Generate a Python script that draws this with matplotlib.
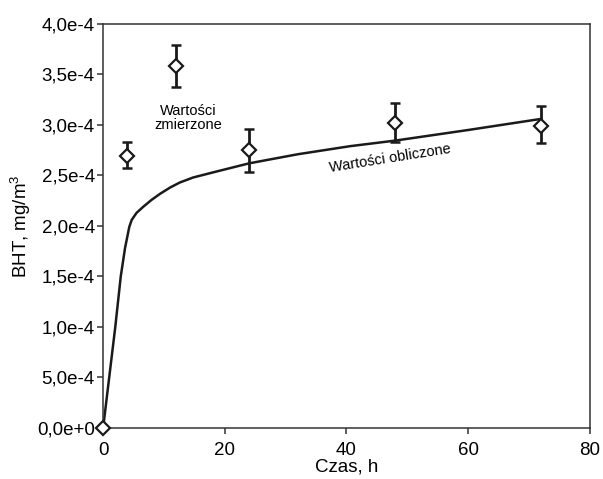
import numpy as np
import matplotlib
matplotlib.use("Agg")
import matplotlib.pyplot as plt
from matplotlib.ticker import FixedLocator, FixedFormatter

plt.rcParams["font.family"] = ["Liberation Sans", "DejaVu Sans"]
plt.rcParams["mathtext.default"] = "regular"

# measured values (time in h, BHT in mg/m3)
meas_t = [0, 4, 12, 24, 48, 72]
meas_y = [0.0, 2.69e-4, 3.58e-4, 2.75e-4, 3.02e-4, 2.99e-4]
meas_lo = [0.0, 2.57e-4, 3.38e-4, 2.53e-4, 2.83e-4, 2.82e-4]
meas_hi = [0.0, 2.83e-4, 3.79e-4, 2.96e-4, 3.22e-4, 3.19e-4]

# calculated curve
calc_t = [0, 1.0, 2.0, 2.9, 3.6, 4.3, 4.7, 5.5, 6.6, 8.0, 9.4, 11.0, 12.6,
          14.8, 18.7, 24, 32, 40.6, 48, 60, 72]
calc_y = [0.0, 0.5e-4, 1.0e-4, 1.5e-4, 1.78e-4, 1.99e-4, 2.06e-4, 2.13e-4,
          2.19e-4, 2.26e-4, 2.32e-4, 2.38e-4, 2.43e-4, 2.48e-4, 2.54e-4,
          2.62e-4, 2.71e-4, 2.79e-4, 2.845e-4, 2.95e-4, 3.06e-4]

y_ticks = [0, 0.5e-4, 1.0e-4, 1.5e-4, 2.0e-4, 2.5e-4, 3.0e-4, 3.5e-4, 4.0e-4]
y_labels = ["0,0e+0", "5,0e-4", "1,0e-4", "1,5e-4", "2,0e-4",
            "2,5e-4", "3,0e-4", "3,5e-4", "4,0e-4"]
x_ticks = [0, 20, 40, 60, 80]

fig = plt.figure(figsize=(6.03, 4.79), dpi=100)
ax = fig.add_axes([0.171, 0.1065, 0.807, 0.8435])

ax.plot(calc_t, calc_y, color="#1a1a1a", lw=1.8, zorder=2)

y = np.array(meas_y)
yerr = [y - np.array(meas_lo), np.array(meas_hi) - y]
ax.errorbar(meas_t[1:], meas_y[1:], yerr=[yerr[0][1:], yerr[1][1:]], fmt="none",
            ecolor="#1a1a1a", elinewidth=2, capsize=3.5, capthick=1.8, zorder=3)
ax.plot(meas_t, meas_y, linestyle="none", marker="D", markersize=7.5,
        markerfacecolor="white", markeredgecolor="#1a1a1a", markeredgewidth=1.6,
        clip_on=False, zorder=4)

ax.text(14, 3.07e-4, "Wartości\nzmierzone", ha="center", va="center",
        fontsize=10.5, linespacing=1.0)
ax.text(47.1, 2.67e-4, "Wartości obliczone", ha="center", va="center",
        fontsize=10.5, rotation=9)

ax.set_xlim(0, 80)
ax.set_ylim(0, 4.0e-4)
ax.xaxis.set_major_locator(FixedLocator(x_ticks))
ax.yaxis.set_major_locator(FixedLocator(y_ticks))
ax.yaxis.set_major_formatter(FixedFormatter(y_labels))
ax.tick_params(direction="out", length=4, width=1.1, labelsize=13.5, pad=2,
               color="#333333")
ax.tick_params(axis="x", pad=6)
for s in ax.spines.values():
    s.set_linewidth(1.1)
    s.set_color("#333333")

ax.set_xlabel("Czas, h", fontsize=13.5, labelpad=0)
ax.set_ylabel("BHT, mg/m$^3$", fontsize=13.5, labelpad=3)

fig.savefig("out.png", dpi=100)
